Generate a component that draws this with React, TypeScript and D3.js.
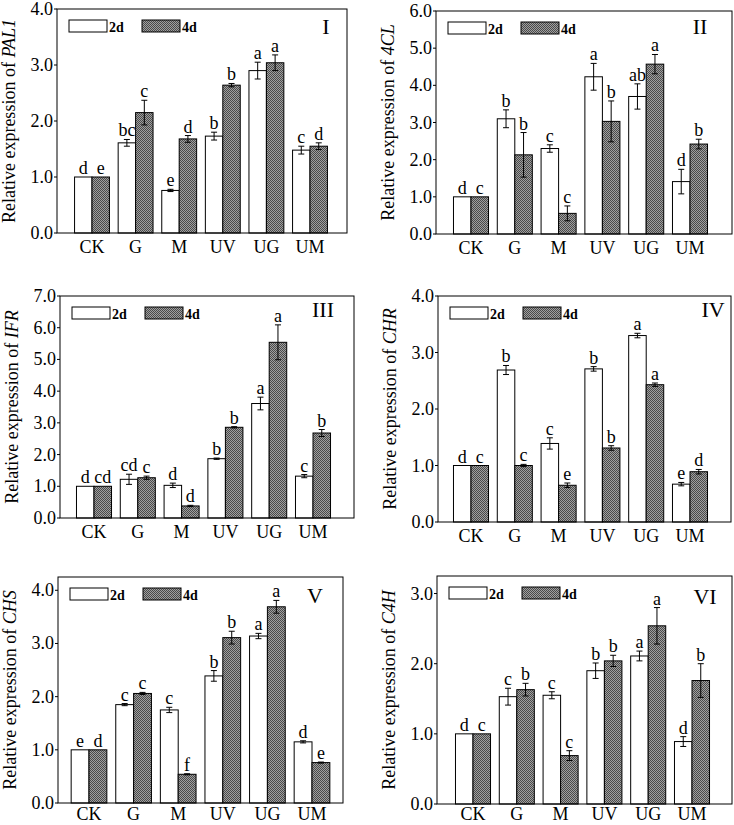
import React from "react";
import * as d3 from "d3";

// ---------- data ----------
const categories = ["CK", "G", "M", "UV", "UG", "UM"];
const panelIds = ["I", "II", "III", "IV", "V", "VI"];
const genes = ["PAL1", "4CL", "IFR", "CHR", "CHS", "C4H"];
const yMaxes = [4, 6, 7, 4, 4.25, 3.25];

const values2d = [
  [1.0, 1.61, 0.76, 1.73, 2.9, 1.48],
  [1.0, 3.1, 2.3, 4.23, 3.7, 1.41],
  [1.0, 1.22, 1.03, 1.87, 3.61, 1.32],
  [1.0, 2.69, 1.39, 2.71, 3.3, 0.67],
  [1.0, 1.85, 1.75, 2.39, 3.14, 1.15],
  [1.0, 1.53, 1.55, 1.9, 2.11, 0.89],
];
const errors2d = [
  [0, 0.06, 0.02, 0.07, 0.15, 0.07],
  [0, 0.24, 0.1, 0.36, 0.34, 0.33],
  [0, 0.16, 0.07, 0.02, 0.2, 0.05],
  [0, 0.08, 0.1, 0.04, 0.04, 0.03],
  [0, 0.02, 0.05, 0.1, 0.05, 0.02],
  [0, 0.12, 0.05, 0.11, 0.07, 0.07],
];
const values4d = [
  [1.0, 2.15, 1.68, 2.64, 3.04, 1.55],
  [1.0, 2.13, 0.555, 3.03, 4.57, 2.42],
  [1.0, 1.27, 0.38, 2.86, 5.54, 2.68],
  [1.0, 1.0, 0.65, 1.31, 2.43, 0.89],
  [1.0, 2.06, 0.54, 3.11, 3.69, 0.76],
  [1.0, 1.63, 0.69, 2.04, 2.54, 1.76],
];
const errors4d = [
  [0, 0.22, 0.06, 0.03, 0.14, 0.06],
  [0, 0.6, 0.2, 0.55, 0.26, 0.13],
  [0, 0.05, 0.02, 0.02, 0.55, 0.11],
  [0, 0.02, 0.04, 0.04, 0.03, 0.04],
  [0, 0.02, 0.01, 0.12, 0.12, 0.01],
  [0, 0.09, 0.07, 0.08, 0.26, 0.24],
];
const letters2d = [
  ["d", "bc", "e", "b", "a", "c"],
  ["d", "b", "c", "a", "ab", "d"],
  ["d", "cd", "d", "b", "a", "c"],
  ["d", "b", "c", "b", "a", "e"],
  ["e", "c", "c", "b", "a", "d"],
  ["d", "c", "c", "b", "a", "d"],
];
const letters4d = [
  ["e", "c", "d", "b", "a", "d"],
  ["c", "b", "c", "b", "a", "b"],
  ["cd", "c", "d", "b", "a", "b"],
  ["c", "c", "e", "b", "a", "d"],
  ["d", "c", "f", "b", "a", "e"],
  ["c", "b", "c", "b", "a", "b"],
];
const seriesNames = ["2d", "4d"];

// ---------- layout ----------
const frames = [
  { x0: 57, x1: 347, y0: 9, y1: 233, padL: 35, padR: 37, numX: 326, numY: 34 },
  { x0: 436, x1: 732, y0: 11, y1: 234, padL: 35, padR: 42, numX: 700, numY: 34 },
  { x0: 60, x1: 354, y0: 296, y1: 518, padL: 34, padR: 41, numX: 323, numY: 317 },
  { x0: 438, x1: 731, y0: 296, y1: 522, padL: 33, padR: 41, numX: 713, numY: 317 },
  { x0: 58, x1: 343, y0: 577, y1: 803, padL: 31, padR: 31, numX: 315, numY: 603 },
  { x0: 437, x1: 732, y0: 576, y1: 804, padL: 36, padR: 40, numX: 705, numY: 604 },
];

const FONT = "'Liberation Serif', 'Times New Roman', serif";
const fmt = d3.format(".1f");

function Panel({ i }: { i: number }) {
  const f = frames[i];
  const x = d3
    .scalePoint<string>()
    .domain(categories)
    .range([f.x0 + f.padL, f.x1 - f.padR]);
  const step = x.step();
  const bw = step * 0.4;
  const y = d3.scaleLinear().domain([0, yMaxes[i]]).range([f.y1, f.y0]);
  const ticks = d3.range(0, Math.floor(yMaxes[i]) + 0.001, 1);
  const series = [
    { v: values2d[i], e: errors2d[i], l: letters2d[i], fill: "#ffffff", off: -bw },
    { v: values4d[i], e: errors4d[i], l: letters4d[i], fill: "url(#checker)", off: 0 },
  ];
  const cy = (f.y0 + f.y1) / 2;
  const lx = f.x0 + 12;
  const ly = f.y0 + 11;
  return (
    <g>
      {series.map((s, si) =>
        categories.map((c, ci) => {
          const bx = (x(c) as number) + s.off;
          const v = s.v[ci];
          const e = s.e[ci];
          const top = y(v + e);
          const cx = bx + bw / 2;
          return (
            <g key={`${si}-${ci}`}>
              <rect x={bx} y={y(v)} width={bw} height={y(0) - y(v)} fill={s.fill} stroke="#000" strokeWidth={1} />
              {e > 0 && (
                <g stroke="#000" strokeWidth={1}>
                  <line x1={cx} x2={cx} y1={y(v + e)} y2={y(v - e)} />
                  <line x1={cx - 3} x2={cx + 3} y1={y(v + e)} y2={y(v + e)} />
                  <line x1={cx - 3} x2={cx + 3} y1={y(v - e)} y2={y(v - e)} />
                </g>
              )}
              <text x={cx} y={top - 3} textAnchor="middle" fontSize={18} fontFamily={FONT}>
                {s.l[ci]}
              </text>
            </g>
          );
        })
      )}
      <rect x={f.x0} y={f.y0} width={f.x1 - f.x0} height={f.y1 - f.y0} fill="none" stroke="#000" strokeWidth={1} />
      {ticks.map((t) => (
        <g key={t}>
          <line x1={f.x0 - 3} x2={f.x0} y1={y(t)} y2={y(t)} stroke="#000" />
          <text x={f.x0 - 4} y={y(t) + 6} textAnchor="end" fontSize={18} fontFamily={FONT}>
            {fmt(t)}
          </text>
        </g>
      ))}
      {categories.map((c) => (
        <text key={c} x={x(c)} y={Math.min(f.y1 + 20, 820)} textAnchor="middle" fontSize={18} fontFamily={FONT}>
          {c}
        </text>
      ))}
      <text
        transform={`translate(${f.x0 - 42},${cy}) rotate(-90)`}
        textAnchor="middle"
        fontSize={18}
        fontFamily={FONT}
      >
        Relative expression of <tspan fontStyle="italic">{genes[i]}</tspan>
      </text>
      <text x={f.numX} y={f.numY} textAnchor="middle" fontSize={22} fontFamily={FONT}>
        {panelIds[i]}
      </text>
      {seriesNames.map((n, k) => (
        <g key={n}>
          <rect
            x={lx + k * 73}
            y={ly}
            width={38}
            height={12}
            fill={k === 0 ? "#fff" : "url(#checker)"}
            stroke="#000"
            strokeWidth={1}
          />
          <text x={lx + k * 73 + 40} y={ly + 12} fontSize={14} fontWeight="bold" fontFamily={FONT}>
            {n}
          </text>
        </g>
      ))}
    </g>
  );
}

export default function App() {
  return (
    <svg
      width={734}
      height={825}
      style={{ position: "absolute", left: 0, top: 0, background: "#fff" }}
    >
      <defs>
        <pattern id="checker" width={2} height={2} patternUnits="userSpaceOnUse">
          <rect width={2} height={2} fill="#a0a0a0" />
          <rect width={1} height={1} fill="#4a4a4a" />
          <rect x={1} y={1} width={1} height={1} fill="#4a4a4a" />
        </pattern>
      </defs>
      <rect width={734} height={825} fill="#fff" />
      {panelIds.map((_, i) => (
        <Panel key={i} i={i} />
      ))}
    </svg>
  );
}
